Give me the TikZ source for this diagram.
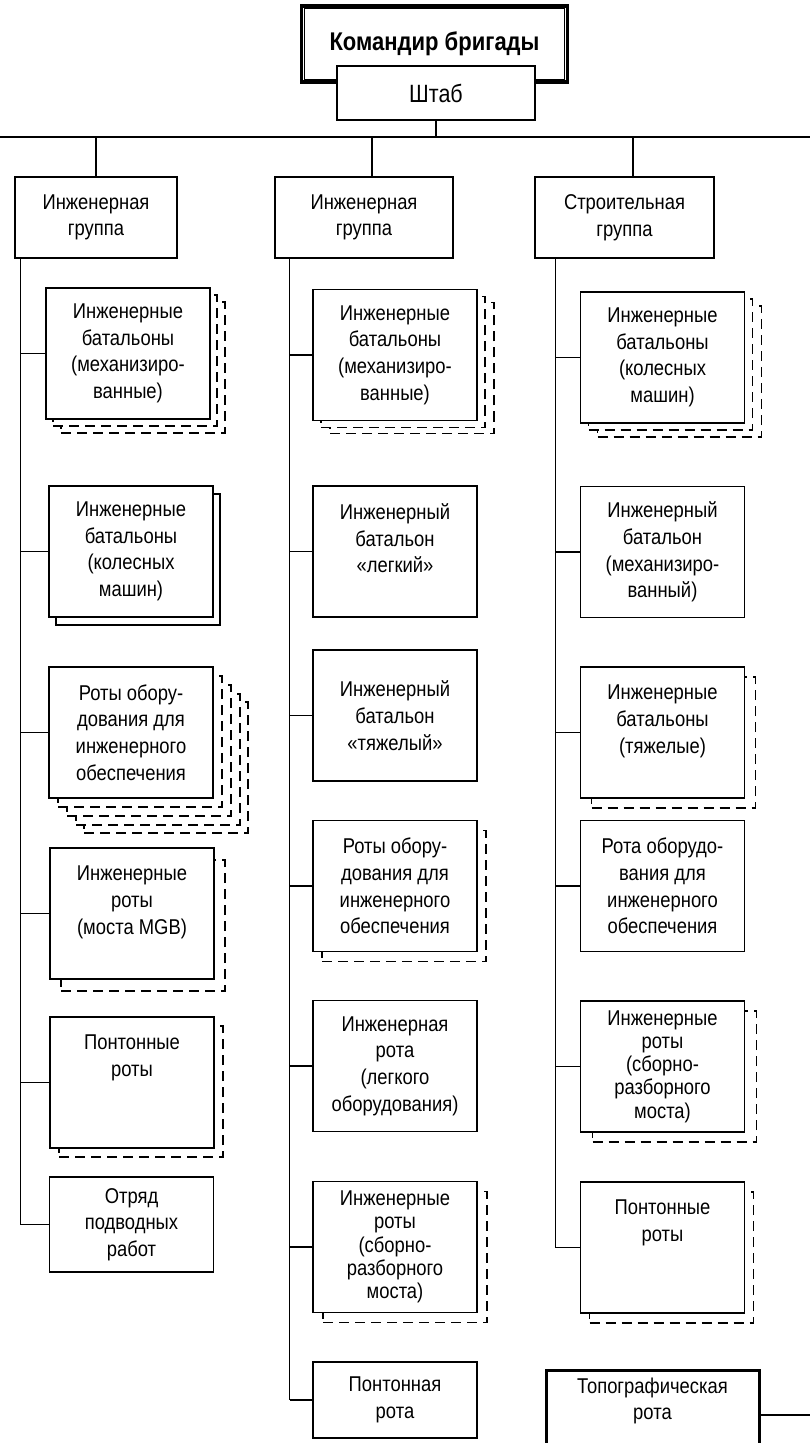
\documentclass[tikz,border=0pt]{standalone}
\usepackage{fontspec}
\setmainfont{Liberation Sans}[FakeStretch=0.86]
\usetikzlibrary{shadows}

\begin{document}
\begin{tikzpicture}[x=0.5pt,y=-0.5pt,line width=0.65pt,line cap=butt,
 box/.style={draw,fill=white,align=center,inner sep=1pt,line width=0.6pt,
  minimum width=82pt,minimum height=65.5pt,font=\fontsize{10.7}{13.35}\selectfont},
 tightbox/.style={box,font=\fontsize{10.7}{11.6}\selectfont},
 groupbox/.style={box,line width=1.3pt,minimum height=40.5pt},
 dshadow/.style 2 args={copy shadow={shadow xshift=#1pt,shadow yshift=-#2pt,
  draw=black,fill=white,line width=0.65pt,dash pattern=on 5pt off 3pt}},
 sshadow/.style 2 args={copy shadow={shadow xshift=#1pt,shadow yshift=-#2pt,
  draw=black,fill=white,line width=0.65pt}}]
 \clip (0,0) rectangle (810,1443);
 \coordinate (busL) at (0,137);
 \coordinate (busR) at (810,137);
 \coordinate (topoR) at (810,1415);

 \node[draw,fill=white,line width=1.7pt,minimum width=133pt,minimum height=38pt,
  font=\fontsize{12.8}{14}\selectfont\bfseries] (cmd) at (434.5,44) {Командир бригады};
 \draw[line width=0.5pt] ([xshift=2.3pt,yshift=-2.3pt]cmd.north west)
  rectangle ([xshift=-2.3pt,yshift=2.3pt]cmd.south east);
 \node[draw,fill=white,line width=1.3pt,minimum width=99pt,minimum height=27pt,
  font=\fontsize{12.5}{14}\selectfont] (shtab) at (436,93) {Штаб};

 \node[groupbox,minimum width=81pt] (g1) at (96,217.5) {Инженерная\\группа};
 \node[groupbox,minimum width=89pt] (g2) at (364,217.5) {Инженерная\\группа};
 \node[groupbox,minimum width=89.5pt] (g3) at (624.5,217.5) {Строительная\\группа};

 \draw (busL) -- (busR);
 \draw (shtab.south) -- (shtab.south |- busL);
 \draw (g1.north) -- (g1.north |- busL);
 \draw ([xshift=4pt]g2.north) -- ([xshift=4pt]g2.north |- busL);
 \draw ([xshift=4.25pt]g3.north) -- ([xshift=4.25pt]g3.north |- busL);

 \node[box,dshadow={7.5}{7},dshadow={3.5}{3.5}] (l1) at (128,353.5)
  {Инженерные\\батальоны\\(механизиро-\\ванные)};
 \node[box,sshadow={3.5}{4}] (l2) at (131,551.5)
  {Инженерные\\батальоны\\(колесных\\машин)};
 \node[box,dshadow={17.5}{17.5},dshadow={13.5}{13.5},dshadow={9}{9},dshadow={4.5}{4.5}]
  (l3) at (131,732.5) {Роты обору-\\дования для\\инженерного\\обеспечения};
 \node[box,dshadow={5.5}{6}] (l4) at (132,913.5) {Инженерные\\роты\\(моста MGB)\\\mbox{}};
 \node[box,dshadow={4.5}{4.5}] (l5) at (132,1082.5) {Понтонные\\роты\\\mbox{}\\\mbox{}};
 \node[box,minimum height=47.5pt] (l6) at (131.5,1224.5) {Отряд\\подводных\\работ};

 \node[box,dshadow={8.5}{6.5},dshadow={4}{3.5}] (m1) at (395,355)
  {Инженерные\\батальоны\\(механизиро-\\ванные)};
 \node[box] (m2) at (395,551.5) {Инженерный\\батальон\\«легкий»\\\mbox{}};
 \node[box] (m3) at (395,715.5) {Инженерный\\батальон\\«тяжелый»};
 \node[box,dshadow={4.5}{5}] (m4) at (395,886)
  {Роты обору-\\дования для\\инженерного\\обеспечения};
 \node[box] (m5) at (395,1066) {Инженерная\\рота\\(легкого\\оборудования)};
 \node[tightbox,dshadow={5}{5}] (m6) at (395,1247)
  {Инженерные\\роты\\(сборно-\\разборного\\моста)};
 \node[box,minimum height=38pt] (m7) at (395,1400) {Понтонная\\рота};

 \node[box,dshadow={8.5}{7},dshadow={4}{3.5}] (r1) at (662.5,357.5)
  {Инженерные\\батальоны\\(колесных\\машин)};
 \node[box] (r2) at (662.5,552) {Инженерный\\батальон\\(механизиро-\\ванный)};
 \node[box,dshadow={5.5}{5}] (r3) at (662.5,732.5)
  {Инженерные\\батальоны\\(тяжелые)\\\mbox{}};
 \node[box] (r4) at (662.5,886) {Рота оборудо-\\вания для\\инженерного\\обеспечения};
 \node[tightbox,dshadow={6}{5}] (r5) at (662.5,1066.5)
  {Инженерные\\роты\\(сборно-\\разборного\\моста)};
 \node[box,dshadow={4.5}{5}] (r6) at (662.5,1247.5) {Понтонные\\роты\\\mbox{}\\\mbox{}};

 \node[box,line width=1.5pt,minimum width=106.5pt,minimum height=44.5pt] (topo)
  at (652.5,1415) {Топографическая\\рота\\[3pt]};

 \draw ([xshift=3.5pt]g1.south west) coordinate (s1) -- (s1 |- l6.west);
 \foreach \n in {l1,l2,l3,l4,l5,l6}
  \draw (s1 |- \n.west) -- (\n.west);
 \draw ([xshift=8pt]g2.south west) coordinate (s2) -- (s2 |- m7.west);
 \foreach \n in {m1,m2,m3,m4,m5,m6,m7}
  \draw (s2 |- \n.west) -- (\n.west);
 \draw ([xshift=11pt]g3.south west) coordinate (s3) -- (s3 |- r6.west);
 \foreach \n in {r1,r2,r3,r4,r5,r6}
  \draw (s3 |- \n.west) -- (\n.west);
 \draw (topo.east) -- (topoR);
\end{tikzpicture}
\end{document}
